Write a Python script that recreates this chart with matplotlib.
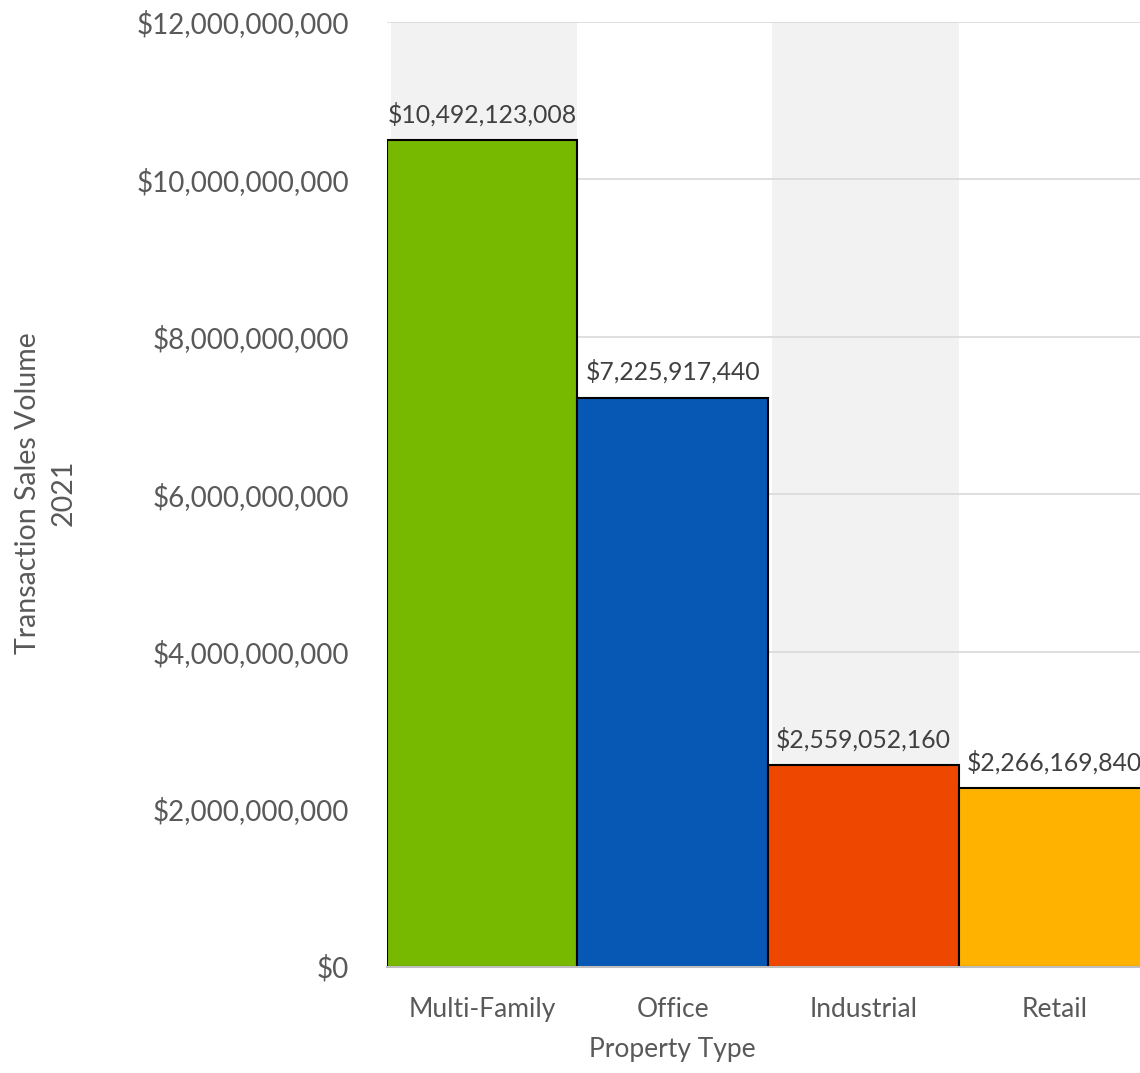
import matplotlib.pyplot as plt
from matplotlib.ticker import FuncFormatter

plt.rcParams['font.family'] = ['Lato', 'DejaVu Sans']

# 2021 transaction sales volume by property type
property_types = ['Multi-Family', 'Office', 'Industrial', 'Retail']
sales_volume = [10492123008, 7225917440, 2559052160, 2266169840]
bar_colors = ['#76B900', '#0757B5', '#EE4800', '#FFB300']

y_ticks = [0, 2e9, 4e9, 6e9, 8e9, 10e9, 12e9]

text_color = '#595959'

fig = plt.figure(figsize=(11.4, 10.73), dpi=100)
ax = fig.add_axes([386.7 / 1140, 106.5 / 1073, 763 / 1140, 944.8 / 1073])

x = list(range(len(property_types)))

# alternating shaded bands behind every other category
for i in x[::2]:
    ax.axvspan(i - 0.48, i + 0.5, color='#F2F2F2', zorder=0, linewidth=0)

ax.bar(x, sales_volume, width=1.0, color=bar_colors, edgecolor='black',
       linewidth=1.5, zorder=3)

for i, v in zip(x, sales_volume):
    ax.annotate(f'${v:,.0f}', (i, v), xytext=(0, 10), textcoords='offset points',
                ha='center', va='bottom', fontsize=17.8, color='#404040', zorder=4)

ax.set_xlim(-0.5, 3.5)
ax.set_ylim(0, 12e9)
ax.set_yticks(y_ticks)
ax.yaxis.set_major_formatter(FuncFormatter(lambda v, p: f'${v:,.0f}'))
ax.set_xticks(x)
ax.set_xticklabels(property_types)

ax.grid(axis='y', color='#D9D9D9', linewidth=1.2, zorder=1)
ax.set_axisbelow(True)
for s in ['left', 'right', 'top']:
    ax.spines[s].set_visible(False)
ax.spines['bottom'].set_color('#BFBFBF')
ax.spines['bottom'].set_linewidth(1.5)
ax.spines['bottom'].set_zorder(5)

ax.tick_params(axis='y', length=0, pad=27, labelsize=20, labelcolor=text_color)
ax.tick_params(axis='x', length=0, pad=22, labelsize=19, labelcolor=text_color)

fig.text(46 / 1140, 1 - 493 / 1073, 'Transaction Sales Volume\n2021', rotation=90,
         ha='center', va='center', multialignment='center', fontsize=20.5,
         color=text_color, linespacing=1.45)
fig.text(672 / 1140, 1 - 1050 / 1073, 'Property Type', ha='center', va='center',
         fontsize=19, color=text_color)

fig.savefig('out.png', dpi=100)
